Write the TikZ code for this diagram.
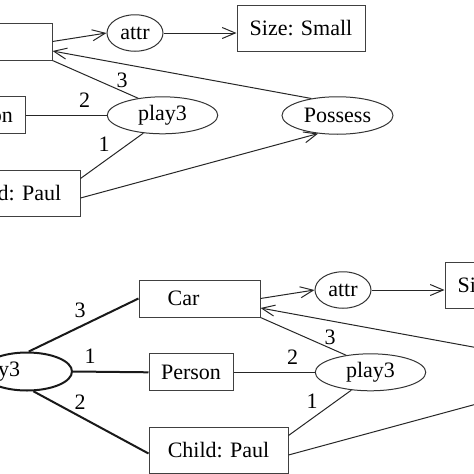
\documentclass[tikz,border=0pt]{standalone}
\usepackage{fontspec}
\setmainfont{Liberation Serif}
\usetikzlibrary{shapes.geometric,arrows.meta}
\tikzset{
  every node/.style={font=\fontsize{22}{26}\selectfont, inner sep=0pt, text=black},
  boxnode/.style={draw=black!75, line width=1pt, rectangle},
  ellnode/.style={draw=black!80, line width=1pt, ellipse},
  thinline/.style={draw=black!85, line width=1pt},
  boldline/.style={draw=black!90, line width=2pt},
  arr/.style={thinline, -{Straight Barb[length=13pt,width=11pt]}},
  lbl/.style={font=\fontsize{22}{26}\selectfont},
}
\newcommand\cggraph{%
  \node[boxnode, minimum width=121pt, minimum height=37pt] (car) at (199.5,298.5) {\makebox[0pt][r]{Car}};
  \node[boxnode, minimum width=84pt, minimum height=37pt] (person) at (191,372.3) {Person};
  \node[boxnode, minimum width=139pt, minimum height=46pt] (child) at (218.5,450.5) {Child: Paul};
  \node[ellnode, minimum width=56pt, minimum height=36.5pt] (attr) at (343,290) {attr};
  \node[boxnode, minimum width=128pt, minimum height=46.5pt] (size) at (509,285.3) {Size: Small};
  \node[ellnode, minimum width=110.5pt, minimum height=37pt] (play3) at (370.5,372.3) {play3};
  \node[ellnode, minimum width=111pt, minimum height=37.5pt] (poss) at (545.5,372.5) {Possess};
  \draw[arr] (car.east) -- (attr.west);
  \draw[arr] (attr.east) -- (attr.east -| size.west);
  \draw[thinline] (car.south east) -- (play3.145) node[lbl] (l3) at (330,337) {3};
  \draw[thinline] (person.east) -- (play3.west) node[lbl] (l2) at (292.5,357) {2};
  \draw[thinline] ([yshift=-8.5pt]child.north east) -- (play3.223) node[lbl] (l1) at (312,401) {1};
  \draw[arr] ([yshift=-4.5pt]child.east) -- (poss.223);
  \draw[arr] (poss.147) -- ([yshift=-9.5pt]car.east);
}
\begin{document}
\begin{tikzpicture}[x=1pt,y=-1pt]
  \useasboundingbox (0,0) rectangle (474,474);
  \clip (0,0) rectangle (474,474);
  \begin{scope}[shift={(-208,-257)}, name prefix=t-]
    \cggraph
  \end{scope}
  \begin{scope}
    \cggraph
    \node[ellnode, line width=2pt, draw=black!90, minimum width=90pt, minimum height=38pt] (p3b) at (27,371.5) {\makebox[0pt][r]{play3\hspace{7pt}}};
    \draw[boldline] (p3b.85) -- (car.west) node[lbl] (b3) at (80,310) {3};
    \draw[boldline] (p3b.east) -- (person.west) node[lbl] (b1) at (90,356) {1};
    \draw[boldline] (p3b.288) -- ([yshift=-3pt]child.west) node[lbl] (b2) at (80,402) {2};
  \end{scope}
\end{tikzpicture}
\end{document}
